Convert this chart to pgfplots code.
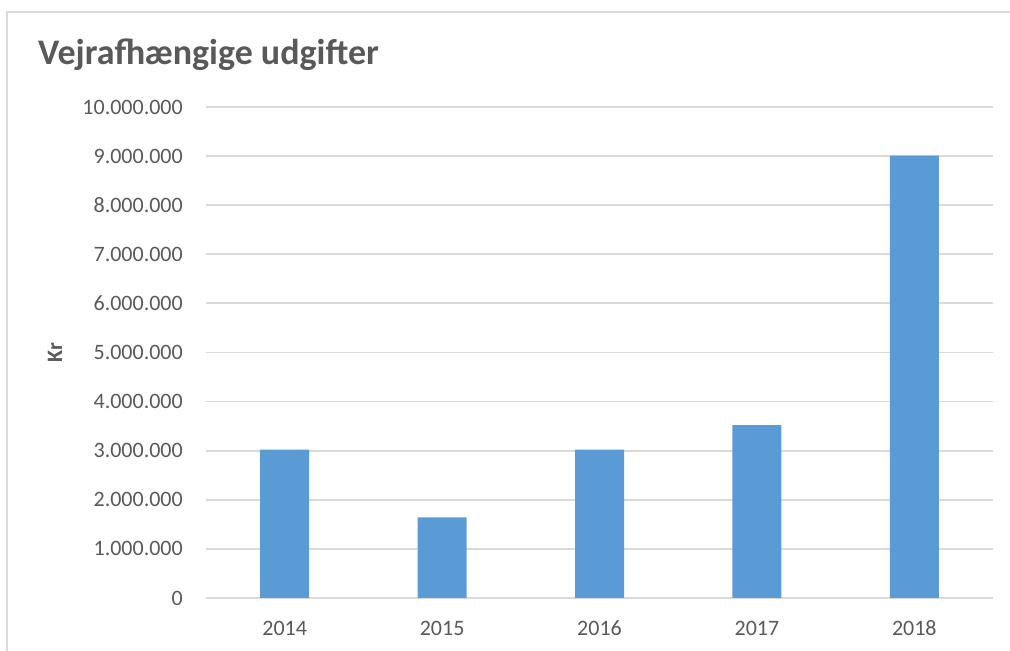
\documentclass[border=0pt]{standalone}
\usepackage{pgfplots}
\pgfplotsset{compat=1.18}
\usepackage{fontspec}
\setmainfont{Carlito}
\definecolor{barblue}{HTML}{5B9BD5}
\definecolor{gridgray}{HTML}{D9D9D9}
\definecolor{txt}{HTML}{595959}
\begin{document}
\begin{tikzpicture}[x=1pt,y=1pt]
\useasboundingbox (0,0) rectangle (1010,651);
\draw[gridgray, line width=2pt] (7,0) -- (7,639) -- (1010,639);
\node[anchor=base west, font=\fontsize{36}{42}\selectfont\bfseries, text=txt, inner sep=0pt] at (38,586) {Vejrafhængige udgifter};
\begin{axis}[
  at={(206pt,53pt)}, anchor=south west,
  scale only axis, width=787pt, height=491pt,
  xmin=-0.5, xmax=4.5, ymin=0, ymax=10000000,
  scaled y ticks=false,
  ybar, bar width=49pt,
  axis line style={draw=none},
  major tick length=0pt,
  xtick={0,1,2,3,4},
  xticklabels={2014,2015,2016,2017,2018},
  ytick={0,1000000,2000000,3000000,4000000,5000000,6000000,7000000,8000000,9000000,10000000},
  yticklabels={0,1.000.000,2.000.000,3.000.000,4.000.000,5.000.000,6.000.000,7.000.000,8.000.000,9.000.000,10.000.000},
  ymajorgrids, grid style={gridgray, line width=1.8pt},
  yticklabel style={anchor=east, inner sep=0pt, xshift=-23pt, font=\fontsize{22}{26}\selectfont, text=txt},
  xticklabel style={anchor=base, inner sep=0pt, yshift=-38pt, font=\fontsize{22}{26}\selectfont, text=txt},
  ylabel={Kr},
  every axis y label/.style={at={(axis description cs:0,0.5)}, xshift=-151pt, rotate=90, anchor=center, font=\fontsize{22}{26}\selectfont\bfseries, text=txt},
  clip=false,
]
\addplot[fill=barblue, draw=none] coordinates {(0,3020000) (1,1640000) (2,3020000) (3,3520000) (4,9010000)};
\end{axis}
\end{tikzpicture}
\end{document}
